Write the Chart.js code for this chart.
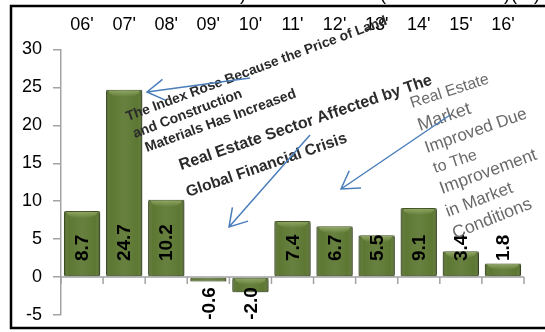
<!DOCTYPE html>
<html>
<head>
<meta charset="utf-8">
<script src="https://cdn.jsdelivr.net/npm/chart.js@4"></script>
<style>
  html, body { margin: 0; padding: 0; background: #fff; }
  canvas { display: block; }
</style>
</head>
<body>
<canvas id="chart" width="545" height="332"></canvas>
<script>
// data
const years = ["06'", "07'", "08'", "09'", "10'", "11'", "12'", "13'", "14'", "15'", "16'"];
const changes = [8.7, 24.7, 10.2, -0.6, -2.0, 7.4, 6.7, 5.5, 9.1, 3.4, 1.8];
const yMin = -5;
const yMax = 30;
const yStep = 5;

// rotated notes: text, baseline start, baseline end, weight, colour
const notes = [
    ['The Index Rose Because the Price of Land', 128, 121, 388, 24, '600', '#2a2a2a'],
    ['and Construction', 135, 138, 243, 97, '600', '#2a2a2a'],
    ['Materials Has Increased', 147, 152, 297, 97, '600', '#2a2a2a'],
    ['Real Estate Sector Affected by The', 181, 170, 433, 84, 'bold', '#2b2b2b'],
    ['Global Financial Crisis', 188, 197, 348, 142, 'bold', '#2b2b2b'],
    ['Real Estate', 412, 108, 490, 83, 'normal', '#6a6a6a'],
    ['Market', 420, 131, 472, 113, 'normal', '#6a6a6a'],
    ['Improved Due', 427, 153, 528, 118, 'normal', '#6a6a6a'],
    ['to The', 435, 173, 478, 159, 'normal', '#6a6a6a'],
    ['Improvement', 442, 194, 538, 159, 'normal', '#6a6a6a'],
    ['in Market', 448, 217, 514, 192, 'normal', '#6a6a6a'],
    ['Conditions', 455, 239, 533, 208, 'normal', '#6a6a6a']
];
// arrows: tail x, tail y, head x, head y
const arrows = [
    [250, 78, 147, 92],
    [310, 135, 229, 227],
    [450, 115, 341, 189]
];

const FONT = "'Liberation Sans', Arial, sans-serif";
const AXIS_GREY = '#a3a3a3';

const frame = {
    id: 'frame',
    afterDraw(chart) {
        const ctx = chart.ctx;
        ctx.save();
        // cut-off title pieces above the frame
        ctx.fillStyle = '#000';
        ctx.font = '18px ' + FONT;
        ctx.textAlign = 'center';
        ctx.textBaseline = 'alphabetic';
        [[')', 243], ['(', 383], [')', 507], ['(', 514], [')', 537]].forEach(p => ctx.fillText(p[0], p[1], 0));
        ctx.strokeStyle = '#000';
        ctx.lineWidth = 2.5;
        ctx.beginPath();
        ctx.moveTo(545, 6);
        ctx.lineTo(11, 6);
        ctx.lineTo(11, 328);
        ctx.lineTo(545, 328);
        ctx.stroke();
        ctx.restore();
    }
};

const zeroAxis = {
    id: 'zeroAxis',
    beforeDatasetsDraw(chart) {
        const { ctx, chartArea, scales } = chart;
        const y0 = scales.y.getPixelForValue(0);
        const n = years.length;
        const w = (chartArea.right - chartArea.left) / n;
        ctx.save();
        ctx.strokeStyle = AXIS_GREY;
        ctx.lineWidth = 1.5;
        ctx.beginPath();
        ctx.moveTo(chartArea.left, y0);
        ctx.lineTo(chartArea.right, y0);
        for (let i = 0; i <= n; i++) {
            const x = chartArea.left + i * w;
            ctx.moveTo(x, y0);
            ctx.lineTo(x, y0 + 7);
        }
        ctx.stroke();
        ctx.restore();
        // soft shadow under the bars
        ctx.save();
        ctx.shadowColor = 'rgba(0,0,0,0.28)';
        ctx.shadowBlur = 4;
        ctx.shadowOffsetX = 2;
        ctx.shadowOffsetY = 2;
    },
    afterDatasetsDraw(chart) {
        const ctx = chart.ctx;
        ctx.restore();
        const bars = chart.getDatasetMeta(0).data;
        ctx.save();
        bars.forEach(el => {
            const l = el.x - el.width / 2, r = el.x + el.width / 2;
            const top = Math.min(el.y, el.base), h = Math.abs(el.y - el.base);
            const g = ctx.createLinearGradient(l, 0, r, 0);
            g.addColorStop(0, 'rgba(20,30,5,0.35)');
            g.addColorStop(0.12, 'rgba(255,255,255,0.04)');
            g.addColorStop(0.5, 'rgba(255,255,255,0.10)');
            g.addColorStop(0.88, 'rgba(255,255,255,0.04)');
            g.addColorStop(1, 'rgba(20,30,5,0.35)');
            ctx.fillStyle = g;
            ctx.fillRect(l, top, el.width, h);
            // light cap at the top of the bar
            const capH = Math.min(7, h / 2);
            const cg = ctx.createLinearGradient(0, top, 0, top + capH);
            cg.addColorStop(0, 'rgba(190,210,140,0.55)');
            cg.addColorStop(1, 'rgba(190,210,140,0.0)');
            ctx.fillStyle = cg;
            ctx.beginPath();
            ctx.ellipse(el.x, top + 1, el.width / 2 - 3, capH, 0, 0, Math.PI);
            ctx.fill();
        });
        ctx.restore();
    }
};

const valueLabels = {
    id: 'valueLabels',
    afterDatasetsDraw(chart) {
        const { ctx, scales } = chart;
        const y0 = scales.y.getPixelForValue(0);
        const bars = chart.getDatasetMeta(0).data;
        ctx.save();
        ctx.fillStyle = '#000';
        ctx.font = 'bold 19px ' + FONT;
        ctx.textBaseline = 'middle';
        bars.forEach((el, i) => {
            const v = changes[i];
            ctx.save();
            if (v >= 0) {
                ctx.translate(el.x, y0 - 16);
                ctx.textAlign = 'left';
            } else {
                ctx.translate(el.x, y0 + 10);
                ctx.textAlign = 'right';
            }
            ctx.rotate(-Math.PI / 2);
            ctx.fillText(v.toFixed(1), 0, 1);
            ctx.restore();
        });
        ctx.restore();
    }
};

const callouts = {
    id: 'callouts',
    afterDraw(chart) {
        const ctx = chart.ctx;
        ctx.save();
        ctx.filter = 'blur(0.5px)';
        ctx.textAlign = 'left';
        ctx.textBaseline = 'alphabetic';
        notes.forEach(([txt, x1, y1, x2, y2, weight, color]) => {
            const len = Math.hypot(x2 - x1, y2 - y1);
            ctx.font = weight + ' 20px ' + FONT;
            const size = 20 * len / ctx.measureText(txt).width;
            ctx.font = weight + ' ' + size.toFixed(2) + 'px ' + FONT;
            ctx.fillStyle = color;
            ctx.save();
            ctx.translate(x1, y1);
            ctx.rotate(Math.atan2(y2 - y1, x2 - x1));
            ctx.fillText(txt, 0, 0);
            ctx.restore();
        });
        ctx.filter = 'none';
        ctx.strokeStyle = '#4a7ebb';
        ctx.lineWidth = 1.5;
        arrows.forEach(([tx, ty, hx, hy]) => {
            const a = Math.atan2(ty - hy, tx - hx);
            ctx.beginPath();
            ctx.moveTo(tx, ty);
            ctx.lineTo(hx, hy);
            ctx.moveTo(hx + 20 * Math.cos(a - 0.55), hy + 20 * Math.sin(a - 0.55));
            ctx.lineTo(hx, hy);
            ctx.lineTo(hx + 20 * Math.cos(a + 0.55), hy + 20 * Math.sin(a + 0.55));
            ctx.stroke();
        });
        ctx.restore();
    }
};

new Chart(document.getElementById('chart'), {
    type: 'bar',
    data: {
        labels: years,
        datasets: [{
            data: changes,
            backgroundColor: '#56722a',
            borderColor: '#3a4c1a',
            borderWidth: 1,
            borderRadius: 2,
            borderSkipped: false,
            barPercentage: 0.86,
            categoryPercentage: 1
        }]
    },
    options: {
        responsive: false,
        animation: false,
        devicePixelRatio: 1,
        layout: { padding: { left: 12, right: 21, top: 0, bottom: 17 } },
        plugins: { legend: { display: false }, tooltip: { enabled: false } },
        scales: {
            x: {
                position: 'top',
                grid: { display: false, drawTicks: false },
                border: { display: false },
                ticks: { color: '#000', font: { family: FONT, size: 18 }, padding: 14, maxRotation: 0 },
                afterFit: s => { s.height = 49.5; }
            },
            y: {
                min: yMin,
                max: yMax,
                ticks: { stepSize: yStep, color: '#000', font: { family: FONT, size: 18 }, padding: 11 },
                grid: { drawOnChartArea: false, color: AXIS_GREY, lineWidth: 1.5, tickLength: 8 },
                border: { color: AXIS_GREY, width: 1.5 },
                afterFit: s => { s.width = 49; s.paddingTop = 0; s.paddingBottom = 0; }
            }
        }
    },
    plugins: [zeroAxis, valueLabels, callouts, frame]
});
</script>
</body>
</html>
